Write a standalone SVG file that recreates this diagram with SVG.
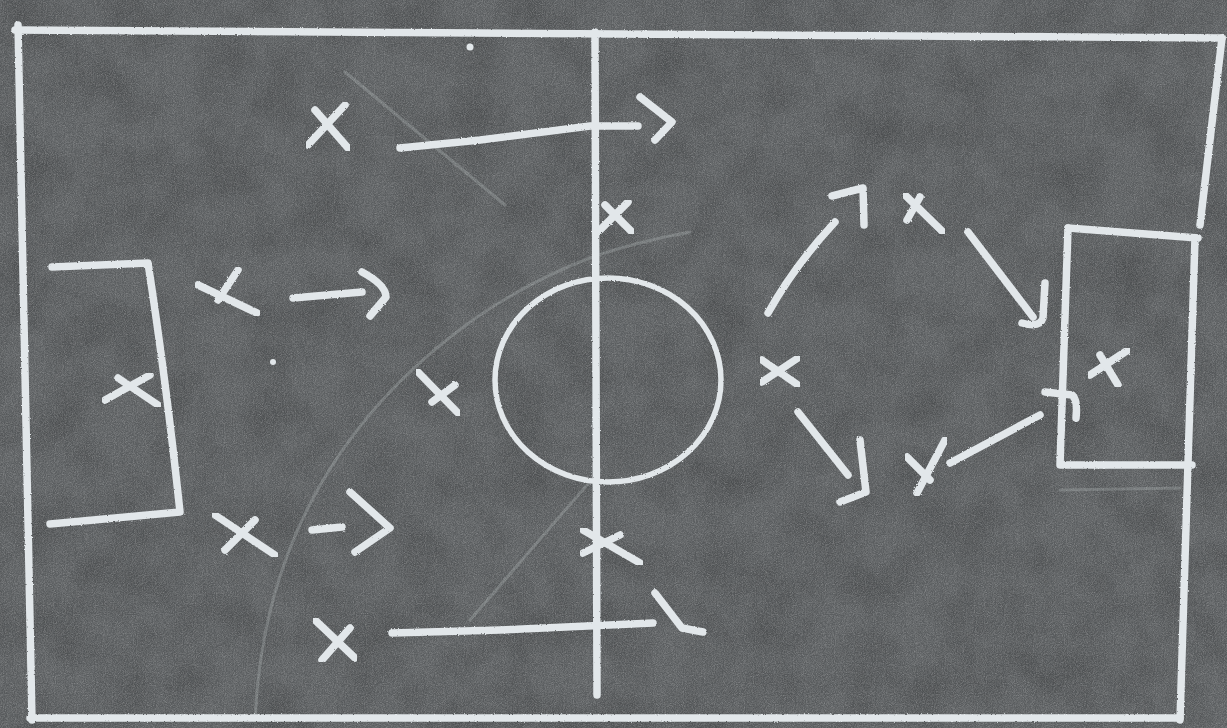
<svg xmlns="http://www.w3.org/2000/svg" width="1227" height="728" viewBox="0 0 1227 728">
<defs>
<filter id="grain" x="0" y="0" width="100%" height="100%">
<feTurbulence type="fractalNoise" baseFrequency="1.1" numOctaves="2" seed="3"/>
<feColorMatrix type="matrix" values="0 0 0 0 1  0 0 0 0 1  0 0 0 0 1  0.6 0.6 0.6 0 -0.72"/>
</filter>
<filter id="blotch" x="0" y="0" width="100%" height="100%">
<feTurbulence type="fractalNoise" baseFrequency="0.02" numOctaves="3" seed="7"/>
<feColorMatrix type="matrix" values="0 0 0 0 0  0 0 0 0 0  0 0 0 0 0  0 0 0.3 0 -0.1"/>
</filter>
<filter id="rough" x="-5%" y="-5%" width="110%" height="110%">
<feTurbulence type="fractalNoise" baseFrequency="0.7" numOctaves="1" seed="2" result="n"/>
<feDisplacementMap in="SourceGraphic" in2="n" scale="2.5"/>
</filter>
</defs>
<style>
.chalk{fill:none;stroke:#e2e7ea;stroke-width:7.5;stroke-linecap:round;stroke-linejoin:round}
.thin{stroke-width:5.5}
.faint{fill:none;stroke:#c9cfd1;stroke-width:3;stroke-linecap:round;opacity:0.25}
</style>
<rect width="1227" height="728" fill="#5b5e60"/>
<rect width="1227" height="728" filter="url(#blotch)"/>
<rect width="1227" height="728" filter="url(#grain)" opacity="0.4"/>

<g id="faint-marks">
<path class="faint" d="M255,720 C262,560 330,420 480,315 C560,262 620,245 690,232"/>
<path class="faint" d="M345,72 L505,205"/>
<path class="faint" d="M600,470 L470,620"/>
<path class="faint" d="M1060,490 L1180,488"/>
<circle cx="470" cy="47" r="3.5" fill="#e2e7ea"/>
<circle cx="273" cy="362" r="3" fill="#e2e7ea"/>
</g>

<g id="field" filter="url(#rough)">
<path class="chalk" d="M15,30 L1222,38"/>
<path class="chalk" d="M18,25 L32,720"/>
<path class="chalk" d="M30,718 L1180,718"/>
<path class="chalk" d="M1222,38 L1200,225"/>
<path class="chalk" d="M1195,238 L1180,720"/>
<path class="chalk" d="M595,32 L597,695"/>
<ellipse class="chalk thin" cx="608" cy="380" rx="113" ry="102"/>
<path class="chalk" d="M52,267 L148,263 Q166,380 180,512 L50,524"/>
<path class="chalk" d="M1068,228 L1198,238"/>
<path class="chalk" d="M1068,228 L1060,465 L1192,465"/>
</g>

<g id="connectors" filter="url(#rough)">
<path class="chalk" d="M400,148 L480,140 L590,126 L638,126"/>
<path class="chalk" d="M640,97 L672,122 L655,140"/>
<path class="chalk" d="M293,298 L362,292"/>
<path class="chalk" d="M362,272 Q386,285 386,297 L370,316"/>
<path class="chalk" d="M312,530 L342,527"/>
<path class="chalk" d="M350,492 L390,528 L355,552"/>
<path class="chalk" d="M392,633 L500,630 L653,623"/>
<path class="chalk" d="M655,593 L682,628 L703,632"/>
<path class="chalk" d="M768,313 Q795,265 835,222"/>
<path class="chalk" d="M832,196 L863,188 L864,225"/>
<path class="chalk" d="M968,232 L1033,317"/>
<path class="chalk" d="M1045,283 L1043,318 Q1040,328 1022,323"/>
<path class="chalk" d="M798,412 L848,475"/>
<path class="chalk" d="M860,440 L866,492 L840,502"/>
<path class="chalk" d="M950,463 L1040,415"/>
<path class="chalk" d="M1045,392 L1072,395 Q1078,400 1076,418"/>
</g>

<g id="player-1" class="chalk" filter="url(#rough)"><path d="M308,145 L345,105"/><path d="M315,110 L348,148"/></g>
<g id="player-2" class="chalk" filter="url(#rough)"><path d="M600,230 L628,202"/><path d="M605,205 L632,232"/></g>
<g id="player-3" class="chalk" filter="url(#rough)"><path d="M198,285 L257,313"/><path d="M238,270 L218,300"/></g>
<g id="player-4" class="chalk" filter="url(#rough)"><path d="M105,400 L150,375"/><path d="M118,378 L158,405"/></g>
<g id="player-5" class="chalk" filter="url(#rough)"><path d="M418,372 L458,413"/><path d="M455,385 L432,402"/></g>
<g id="player-6" class="chalk" filter="url(#rough)"><path d="M215,515 L275,555"/><path d="M255,520 L225,550"/></g>
<g id="player-7" class="chalk" filter="url(#rough)"><path d="M583,530 L640,563"/><path d="M620,535 L583,553"/></g>
<g id="player-8" class="chalk" filter="url(#rough)"><path d="M315,620 L355,658"/><path d="M350,628 L322,660"/></g>
<g id="player-9" class="chalk" filter="url(#rough)"><path d="M905,195 L943,232"/><path d="M920,197 L907,220"/></g>
<g id="player-10" class="chalk" filter="url(#rough)"><path d="M762,382 L798,358"/><path d="M762,360 L798,385"/></g>
<g id="player-11" class="chalk" filter="url(#rough)"><path d="M907,457 L930,480"/><path d="M945,440 L917,493"/></g>
<g id="player-12" class="chalk" filter="url(#rough)"><path d="M1090,375 L1128,350"/><path d="M1100,355 L1118,385"/></g>
</svg>
